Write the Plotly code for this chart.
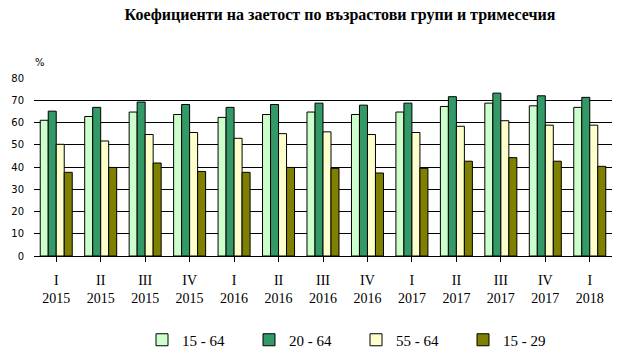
import plotly.graph_objects as go

quarters = ["I", "II", "III", "IV", "I", "II", "III", "IV", "I", "II", "III", "IV", "I"]
years = ["2015", "2015", "2015", "2015", "2016", "2016", "2016", "2016",
         "2017", "2017", "2017", "2017", "2018"]
categories = [f"{q}<br>{y}" for q, y in zip(quarters, years)]

series_names = ["15 - 64", "20 - 64", "55 - 64", "15 - 29"]
v_15_64 = [61.0, 62.7, 64.7, 63.6, 62.3, 63.6, 64.7, 63.6, 64.7, 67.2, 68.7, 67.5, 66.8]
v_20_64 = [65.1, 66.8, 69.2, 68.1, 66.8, 68.1, 68.7, 67.8, 68.7, 71.6, 73.2, 72.0, 71.3]
v_55_64 = [50.2, 51.7, 54.6, 55.5, 52.9, 55.0, 55.8, 54.6, 55.5, 58.3, 60.8, 58.8, 58.8]
v_15_29 = [37.6, 39.8, 41.8, 38.0, 37.6, 39.8, 39.4, 37.3, 39.4, 42.6, 44.2, 42.6, 40.3]
series_values = [v_15_64, v_20_64, v_55_64, v_15_29]
colors = ["#CCFFCC", "#339966", "#FFFFCC", "#808000"]

y_ticks = [0, 10, 20, 30, 40, 50, 60, 70, 80]

fig = go.Figure()
for name, vals, col in zip(series_names, series_values, colors):
    fig.add_trace(go.Bar(
        x=list(range(len(categories))), y=vals, name=name,
        marker=dict(color=col, line=dict(color="black", width=1)),
    ))

fig.update_layout(
    width=630, height=356,
    margin=dict(l=34, r=18, t=78, b=100, autoexpand=False),
    paper_bgcolor="white", plot_bgcolor="white",
    barmode="group", bargap=0.28, bargroupgap=0,
    title=dict(
        text="<b>Коефициенти на заетост по възрастови групи и тримесечия</b>",
        font=dict(family="Liberation Serif", size=16, color="black"),
        x=340 / 630, xanchor="center", xref="container",
        y=1 - 14 / 356, yanchor="middle", yref="container",
    ),
    xaxis=dict(
        tickmode="array", tickvals=list(range(len(categories))), ticktext=categories,
        range=[-0.5, len(categories) - 0.5],
        showline=True, linecolor="black", linewidth=1,
        ticks="outside", tickson="boundaries", ticklen=5, tickcolor="black",
        showgrid=False, zeroline=False,
        tickfont=dict(family="Liberation Serif", size=14, color="black"),
        ticklabelstandoff=6,
    ),
    yaxis=dict(
        range=[0, 80], tickvals=y_ticks,
        showgrid=True, gridcolor="black", gridwidth=1,
        zeroline=False, showline=False, ticks="",
        tickfont=dict(family="DejaVu Sans", size=10, color="black"),
        ticklabelstandoff=9,
    ),
    legend=dict(
        orientation="h", x=(142 - 34) / 578, xanchor="left",
        y=-(340 - 256) / 178, yanchor="middle",
        entrywidth=62, entrywidthmode="pixels",
        font=dict(family="Liberation Serif", size=15, color="black"),
        itemclick=False,
    ),
    annotations=[dict(
        text="%", x=(40 - 34) / 578, y=(256 - 63) / 178, xref="paper", yref="paper",
        showarrow=False, xanchor="center", yanchor="middle",
        font=dict(family="DejaVu Sans", size=10, color="black"),
    )],
)

fig.write_html(
    "out.html",
    config={"displayModeBar": False},
    post_script="document.body.style.margin='0';document.body.style.overflow='hidden';",
)
